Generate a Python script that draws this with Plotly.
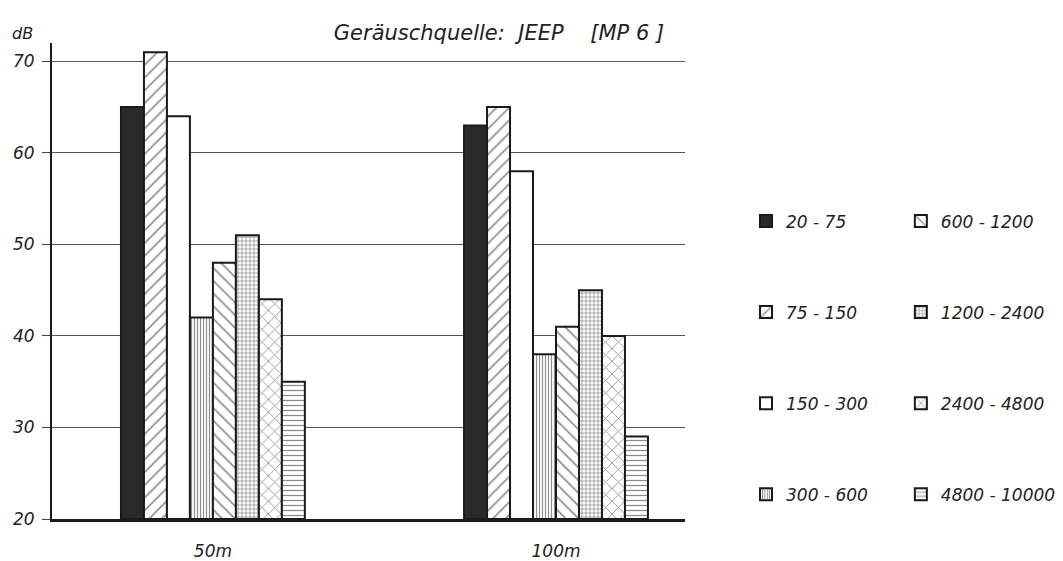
import plotly.graph_objects as go

categories = ["50m", "100m"]
bands = ["20 - 75", "75 - 150", "150 - 300", "300 - 600",
         "600 - 1200", "1200 - 2400", "2400 - 4800", "4800 - 10000"]
values_50m = [65, 71, 64, 42, 48, 51, 44, 35]
values_100m = [63, 65, 58, 38, 41, 45, 40, 29]
y_ticks = [20, 30, 40, 50, 60, 70]

# style per band: (fill color, pattern shape, pattern size, solidity)
styles = [
    ("#2a2a2a", "", 8, 0.3),
    ("white", "/", 9, 0.18),
    ("white", "", 8, 0.3),
    ("white", "|", 3, 0.4),
    ("white", "\\", 9, 0.18),
    ("white", "+", 4, 0.35),
    ("white", "x", 9, 0.18),
    ("white", "-", 5, 0.25),
]

INK = "#1a1a1a"
TXT = "#222"

fig = go.Figure()
for i, band in enumerate(bands):
    fill, shape, size, sol = styles[i]
    fig.add_trace(go.Bar(
        x=categories,
        y=[values_50m[i] - 20, values_100m[i] - 20],
        base=20,
        name=band,
        legend="legend" if i < 4 else "legend2",
        legendgroup=band,
        marker=dict(
            color=fill,
            line=dict(color=INK, width=2),
            pattern=dict(shape=shape, fgcolor=INK, bgcolor=fill,
                         size=size, solidity=sol, fillmode="overlay"),
        ),
    ))

legend_common = dict(
    font=dict(family="DejaVu Sans", size=17, color=TXT, style="italic"),
    tracegroupgap=66,
    yanchor="top",
    xanchor="left",
    bgcolor="rgba(0,0,0,0)",
    orientation="v",
)

fig.update_layout(
    width=1063,
    height=561,
    margin=dict(l=52, r=378, t=43, b=42, autoexpand=False),
    plot_bgcolor="white",
    paper_bgcolor="white",
    barmode="group",
    bargap=0.464,
    bargroupgap=0,
    font=dict(family="DejaVu Sans", size=16, color=TXT, style="italic"),
    showlegend=True,
    legend=dict(x=1.0964, y=0.663, **legend_common),
    legend2=dict(x=1.341, y=0.663, **legend_common),
    title=dict(
        text="Geräuschquelle:\u00a0\u00a0JEEP\u00a0\u00a0\u00a0\u00a0[MP\u00a06\u00a0]",
        x=499 / 1063, xanchor="center",
        y=1 - 33 / 561, yanchor="middle",
        font=dict(family="DejaVu Sans", size=21, color=TXT, style="italic"),
    ),
    annotations=[dict(
        text="dB", xref="paper", yref="paper",
        x=-42 / 633, y=1 + (43 - 33) / 476, xanchor="left", yanchor="middle",
        showarrow=False,
        font=dict(family="DejaVu Sans", size=16, color=TXT, style="italic"),
    )],
)

fig.update_xaxes(
    type="category",
    range=[-0.469, 1.376],
    automargin=False,
    showline=True, linecolor=INK, linewidth=2.5,
    ticks="", showgrid=False,
    tickfont=dict(family="DejaVu Sans", size=17, color=TXT, style="italic"),
    ticklabelstandoff=15,
)
fig.update_yaxes(
    range=[20, 72],
    tickvals=y_ticks,
    automargin=False,
    showline=True, linecolor=INK, linewidth=2,
    ticks="outside", ticklen=8, tickcolor="#444", tickwidth=1.2,
    showgrid=True, gridcolor="#555", gridwidth=1,
    zeroline=False,
    ticklabelstandoff=4,
    tickfont=dict(family="DejaVu Sans", size=17, color=TXT, style="italic"),
)

fig.write_html("out.html")
